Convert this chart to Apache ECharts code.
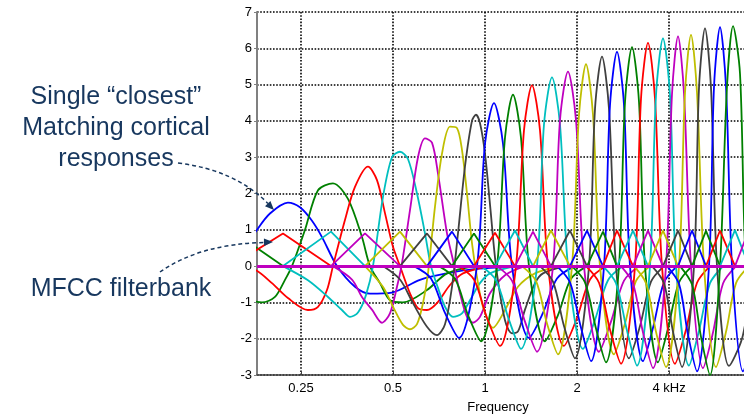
<!DOCTYPE html>
<html>
<head>
<meta charset="utf-8">
<script src="https://cdn.jsdelivr.net/npm/echarts@6/dist/echarts.min.js"></script>
<style>
  html, body { margin: 0; padding: 0; background: #ffffff; }
  #chart { width: 744px; height: 415px; }
</style>
</head>
<body>
<div id="chart"></div>
<script>
// Frequency axis range (kHz) and labelled ticks
const xMin = 0.1795;
const xMax = 7.037;
const xTickValues = [0.25, 0.5, 1, 2, 4];
const xTickLabels = ['0.25', '0.5', '1', '2', '4 kHz'];

// Plot colour order (blue, green, red, cyan, magenta, olive, dark grey)
const colorOrder = ['#0000ff', '#008000', '#ff0000', '#00bfbf', '#bf00bf', '#bfbf00', '#404040'];

// Cortical (wavelet-like) responses: [frequency kHz, amplitude]
const w01 = [[0.1498,0],[0.1795,1.0],[0.1979,1.45],[0.2266,1.75],[0.2481,1.62],[0.2716,1.25],[0.2929,0.8],[0.3279,0],[0.3755,-0.57],[0.4204,-0.76],[0.4962,-0.73],[0.6128,-0.38],[0.7510,-0.2],[0.8930,-0.1],[1.0384,-0.05],[1.3515,0]];
const w02 = [[0.1464,-0.7],[0.1864,-1.0],[0.2055,-0.85],[0.2216,-0.38],[0.2336,0],[0.2577,1.0],[0.2842,2.09],[0.3181,2.28],[0.3562,1.85],[0.3958,0.8],[0.4204,0],[0.4533,-0.47],[0.4887,-0.94],[0.5391,-1.0],[0.6459,-0.66],[0.7510,-0.2],[0.9273,0]];
const w03 = [[0.1520,0],[0.1768,-0.1],[0.2009,-0.47],[0.2266,-0.88],[0.2635,-1.21],[0.2842,-1.12],[0.3041,-0.66],[0.3181,0],[0.3482,1.27],[0.3755,2.18],[0.4141,2.74],[0.4432,2.37],[0.4707,1.46],[0.5,0.53],[0.5271,0],[0.5683,-0.75],[0.6036,-1.16],[0.6459,-1.21],[0.6964,-1.02],[0.7682,-0.52],[0.8472,-0.2],[1.0384,0]];
const w04 = [[0.2183,0],[0.2635,-0.39],[0.3064,-0.85],[0.3404,-1.21],[0.3617,-1.4],[0.3841,-1.28],[0.4079,-0.8],[0.4300,0],[0.4636,1.9],[0.4962,3.0],[0.5271,3.15],[0.5598,2.95],[0.5991,2.0],[0.6363,0.9],[0.6657,0],[0.7018,-0.6],[0.7398,-1.12],[0.7857,-1.4],[0.8408,-1.3],[0.8930,-0.94],[0.9628,-0.47],[1.0384,-0.2],[1.2535,0]];
const w05 = [[0.3181,0],[0.3671,-0.37],[0.3958,-0.85],[0.4268,-1.2],[0.4602,-1.56],[0.4887,-1.3],[0.5153,-0.57],[0.5351,0.08],[0.5683,1.54],[0.6036,3.0],[0.6363,3.52],[0.6707,3.4],[0.7018,2.55],[0.7510,0.9],[0.7857,0.16],[0.8283,-0.75],[0.8731,-1.4],[0.9134,-1.56],[0.9628,-1.4],[1.0384,-0.75],[1.1626,-0.25],[1.3515,0]];
const w06 = [[0.4049,0],[0.4636,-0.57],[0.5,-1.12],[0.5391,-1.62],[0.5683,-1.74],[0.5991,-1.6],[0.6268,-1.02],[0.6508,-0.2],[0.6860,1.63],[0.7233,3.1],[0.7682,3.84],[0.8098,3.8],[0.8408,3.2],[0.8731,2.0],[0.9066,0.63],[0.9413,-0.3],[0.9848,-1.12],[1.0621,-1.7],[1.1626,-1.21],[1.2821,-0.57],[1.4575,-0.2],[1.7593,0]];
const w07 = [[0.4636,0],[0.5271,-0.37],[0.5813,-1.02],[0.6459,-1.67],[0.6964,-1.9],[0.7398,-1.6],[0.7798,-0.57],[0.8159,0.9],[0.8600,2.74],[0.9066,4.0],[0.9343,4.17],[0.9628,3.94],[1.0,3.1],[1.0384,1.7],[1.0864,0],[1.1626,-1.49],[1.2255,-1.85],[1.2821,-1.8],[1.3515,-1.2],[1.4575,-0.47],[1.5479,-0.2],[1.8268,0]];
const w08 = [[0.5857,0],[0.6657,-0.34],[0.7398,-1.29],[0.8220,-1.98],[0.9413,0],[1.0,3.37],[1.0701,4.49],[1.1452,3.37],[1.2255,0],[1.3928,-1.98],[1.5479,-1.29],[1.7200,-0.34],[1.9696,0]];
const w09 = [[0.7071,0],[0.7977,-0.35],[0.8797,-1.35],[0.9701,-2.07],[1.0946,0],[1.1626,3.54],[1.2347,4.72],[1.3114,3.54],[1.3928,0],[1.5714,-2.07],[1.7330,-1.35],[1.9112,-0.35],[2.1564,0]];
const w10 = [[0.8159,0],[0.9203,-0.37],[1.0152,-1.43],[1.1196,-2.2],[1.2630,0],[1.3414,3.74],[1.4249,4.98],[1.5134,3.74],[1.6074,0],[1.8131,-2.2],[2.0,-1.43],[2.2058,-0.37],[2.4882,0]];
const w11 = [[0.9701,0],[1.0864,-0.39],[1.1981,-1.48],[1.3114,-2.28],[1.4796,0],[1.5596,3.9],[1.6565,5.2],[1.7593,3.9],[1.8685,0],[2.0924,-2.28],[2.2904,-1.48],[2.5260,-0.39],[2.8284,0]];
const w12 = [[1.0946,0],[1.2255,-0.4],[1.3515,-1.53],[1.4796,-2.36],[1.6690,0],[1.7593,4.02],[1.8685,5.36],[1.9848,4.02],[2.1082,0],[2.3604,-2.36],[2.5836,-1.53],[2.8498,-0.4],[3.1906,0]];
const w13 = [[1.3213,0],[1.4685,-0.41],[1.5953,-1.58],[1.7330,-2.43],[1.9256,0],[2.0304,4.17],[2.1402,5.56],[2.2562,4.17],[2.3782,0],[2.6426,-2.43],[2.8714,-1.58],[3.1192,-0.41],[3.4660,0]];
const w14 = [[1.5134,0],[1.6690,-0.43],[1.8131,-1.65],[1.9696,-2.54],[2.1892,0],[2.2904,4.33],[2.4144,5.77],[2.5450,4.33],[2.6828,0],[2.9592,-2.54],[3.2148,-1.65],[3.4922,-0.43],[3.8512,0]];
const w15 = [[1.7200,0],[1.8968,-0.45],[2.0612,-1.7],[2.2224,-2.62],[2.4510,0],[2.5642,4.43],[2.7030,5.9],[2.8498,4.43],[2.9816,0],[3.2880,-2.62],[3.5452,-1.7],[3.8512,-0.45],[4.2484,0]];
const w16 = [[1.9256,0],[2.1242,-0.45],[2.3078,-1.72],[2.4882,-2.65],[2.7440,0],[2.8714,4.52],[3.0268,6.03],[3.1906,4.52],[3.3380,0],[3.6812,-2.65],[3.9696,-1.72],[4.3128,-0.45],[4.7564,0]];
const w17 = [[2.1402,0],[2.3604,-0.46],[2.5642,-1.75],[2.7856,-2.69],[3.0958,0],[3.2390,4.61],[3.4142,6.15],[3.5990,4.61],[3.7936,0],[4.1848,-2.69],[4.5464,-1.75],[4.9388,-0.46],[5.4468,0]];
const w18 = [[2.4326,0],[2.6828,-0.47],[2.9150,-1.78],[3.1428,-2.74],[3.4660,0],[3.6262,4.7],[3.8224,6.27],[4.0304,4.7],[4.2164,0],[4.6504,-2.74],[5.0140,-1.78],[5.4468,-0.47],[6.0080,0]];
const w19 = [[2.7856,0],[3.0496,-0.48],[3.2880,-1.83],[3.5452,-2.81],[3.9096,0],[4.0916,4.75],[4.2804,6.33],[4.4784,4.75],[4.7208,0],[5.1672,-2.81],[5.5712,-1.83],[6.0080,-0.48],[6.6260,0]];
const w20 = [[3.0726,0],[3.3632,-0.47],[3.6262,-1.81],[3.9096,-2.78],[4.3128,0],[4.5124,4.78],[4.7208,6.37],[4.9388,4.78],[5.2064,0],[5.6996,-2.78],[6.1452,-1.81],[6.6260,-0.47],[7.3072,0]];
const w21 = [[3.5186,0],[3.8512,-0.47],[4.1224,-1.81],[4.4116,-2.78],[4.8288,0],[5.0140,4.91],[5.2456,6.55],[5.4880,4.91],[5.7428,0],[6.2856,-2.75],[6.9320,-2.0],[7.4740,-0.6],[8.1832,0]];
const w22 = [[3.9392,0],[4.3128,-0.49],[4.6156,-1.89],[4.9388,-2.9],[5.4060,0],[5.6140,4.94],[5.8740,6.58],[6.1452,4.94],[6.4296,0],[6.9844,-2.9],[7.4740,-1.89],[8.0,-0.49],[8.7568,0]];
const w23 = [[4.3456,0],[4.7564,-0.51],[5.0900,-1.95],[5.4468,-3.0],[5.8740,0],[6.1916,4.96],[6.4780,6.61],[6.8284,5.3],[7.1440,0],[7.8784,-3.0],[8.4968,-1.95],[9.2312,-0.51],[10.18,0]];
const waveletCurves = [w01, w02, w03, w04, w05, w06, w07, w08, w09, w10, w11, w12,
                       w13, w14, w15, w16, w17, w18, w19, w20, w21, w22, w23];

// MFCC triangular filterbank: centre frequencies (kHz, with outer edge points) and peak gains
const filterCenters = [0.0997, 0.1475, 0.2183, 0.3134, 0.4049, 0.5271, 0.6459, 0.7798, 0.9203,
                       1.0782, 1.2535, 1.4357, 1.6440, 1.8968, 2.1564, 2.4326, 2.7030, 3.0496,
                       3.4142, 3.8224, 4.2804, 4.7564, 5.2852, 5.8740, 6.5760, 7.3072, 8.1216];
const filterPeaks = [1.0, 0.9, 0.95, 0.9, 0.95, 0.9, 0.95, 0.9, 0.92, 0.98, 0.95, 0.98, 0.98,
                     0.98, 0.95, 0.98, 0.98, 0.98, 0.98, 0.98, 0.98, 0.97, 0.98, 0.99, 1.0];

const FONT = '"Liberation Sans", Arial, Helvetica, sans-serif';
const NAVY = '#17375e';
const gridDots = { color: '#000000', type: [1.6, 1.6], width: 1.6 };

const series = [];
waveletCurves.forEach((pts, i) => {
  series.push({
    type: 'line',
    data: pts,
    smooth: 0.3,
    symbol: 'none',
    silent: true,
    z: 2,
    lineStyle: { color: colorOrder[i % 7], width: 1.8 }
  });
});
for (let k = 1; k < filterCenters.length - 1; k++) {
  series.push({
    type: 'line',
    data: [[filterCenters[k - 1], 0], [filterCenters[k], filterPeaks[k - 1]], [filterCenters[k + 1], 0]],
    symbol: 'none',
    silent: true,
    z: 3,
    lineStyle: { color: colorOrder[k % 7], width: 1.8 }
  });
}
// thick zero reference line drawn over everything
series.push({
  type: 'line',
  data: [],
  symbol: 'none',
  silent: true,
  z: 5,
  markLine: {
    silent: true,
    symbol: ['none', 'none'],
    label: { show: false },
    lineStyle: { color: '#bf00bf', width: 3, type: 'solid' },
    data: [{ yAxis: 0 }]
  }
});

// annotation arrows (dashed curves with filled heads)
function arrowHead(tip, dir, len, half) {
  const n = Math.hypot(dir[0], dir[1]);
  const ux = dir[0] / n, uy = dir[1] / n;
  const bx = tip[0] - ux * len, by = tip[1] - uy * len;
  return [[tip[0], tip[1]], [bx - uy * half, by + ux * half], [bx + uy * half, by - ux * half]];
}

const chart = echarts.init(document.getElementById('chart'), null, { renderer: 'canvas' });
chart.setOption({
  animation: false,
  backgroundColor: '#ffffff',
  textStyle: { fontFamily: FONT },
  grid: { left: 257, top: 12, right: 0, bottom: 40, containLabel: false },
  xAxis: {
    type: 'log',
    logBase: 2,
    min: xMin,
    max: xMax,
    axisLine: { show: true, onZero: false, lineStyle: { color: '#404040', width: 1.5 } },
    axisTick: { show: true, inside: true, length: 4, lineStyle: { color: '#404040' } },
    minorTick: { show: false },
    axisLabel: {
      color: '#000000', fontSize: 13, fontFamily: FONT, margin: 7,
      showMinLabel: false, showMaxLabel: false,
      formatter: v => {
        const i = xTickValues.findIndex(t => Math.abs(t - v) < 1e-6 * Math.max(1, t));
        return i >= 0 ? xTickLabels[i] : '';
      }
    },
    splitLine: { show: true, showMinLine: false, showMaxLine: false, lineStyle: gridDots }
  },
  yAxis: {
    type: 'value',
    min: -3,
    max: 7,
    interval: 1,
    axisLine: { show: true, lineStyle: { color: '#808080', width: 2 } },
    axisTick: { show: true, inside: false, length: 3, lineStyle: { color: '#808080' } },
    axisLabel: { color: '#000000', fontSize: 13, fontFamily: FONT, margin: 5 },
    splitLine: { show: true, lineStyle: gridDots }
  },
  series: series,
  graphic: [
    { type: 'text', x: 116, y: 97, style: { text: 'Single \u201cclosest\u201d', fontSize: 25, fontFamily: FONT, fill: NAVY, align: 'center', verticalAlign: 'middle' } },
    { type: 'text', x: 116, y: 128, style: { text: 'Matching cortical', fontSize: 25, fontFamily: FONT, fill: NAVY, align: 'center', verticalAlign: 'middle' } },
    { type: 'text', x: 116, y: 159, style: { text: 'responses', fontSize: 25, fontFamily: FONT, fill: NAVY, align: 'center', verticalAlign: 'middle' } },
    { type: 'text', x: 121, y: 289, style: { text: 'MFCC filterbank', fontSize: 25, fontFamily: FONT, fill: NAVY, align: 'center', verticalAlign: 'middle' } },
    { type: 'text', x: 498, y: 407, style: { text: 'Frequency', fontSize: 13, fontFamily: FONT, fill: '#000000', align: 'center', verticalAlign: 'middle' } },
    { type: 'bezierCurve', z: 20, shape: { x1: 178, y1: 163, cpx1: 235, cpy1: 170, x2: 268, y2: 203.5 },
      style: { stroke: NAVY, lineWidth: 1.5, lineDash: [4, 3], fill: null } },
    { type: 'polygon', z: 20, shape: { points: arrowHead([274, 210], [33, 33.5], 9, 3.8) }, style: { fill: NAVY } },
    { type: 'bezierCurve', z: 20, shape: { x1: 160, y1: 272, cpx1: 200, cpy1: 244, x2: 264, y2: 242.5 },
      style: { stroke: NAVY, lineWidth: 1.5, lineDash: [4, 3], fill: null } },
    { type: 'polygon', z: 20, shape: { points: arrowHead([273, 242], [64, -1.5], 9, 3.8) }, style: { fill: NAVY } }
  ]
});
</script>
</body>
</html>
